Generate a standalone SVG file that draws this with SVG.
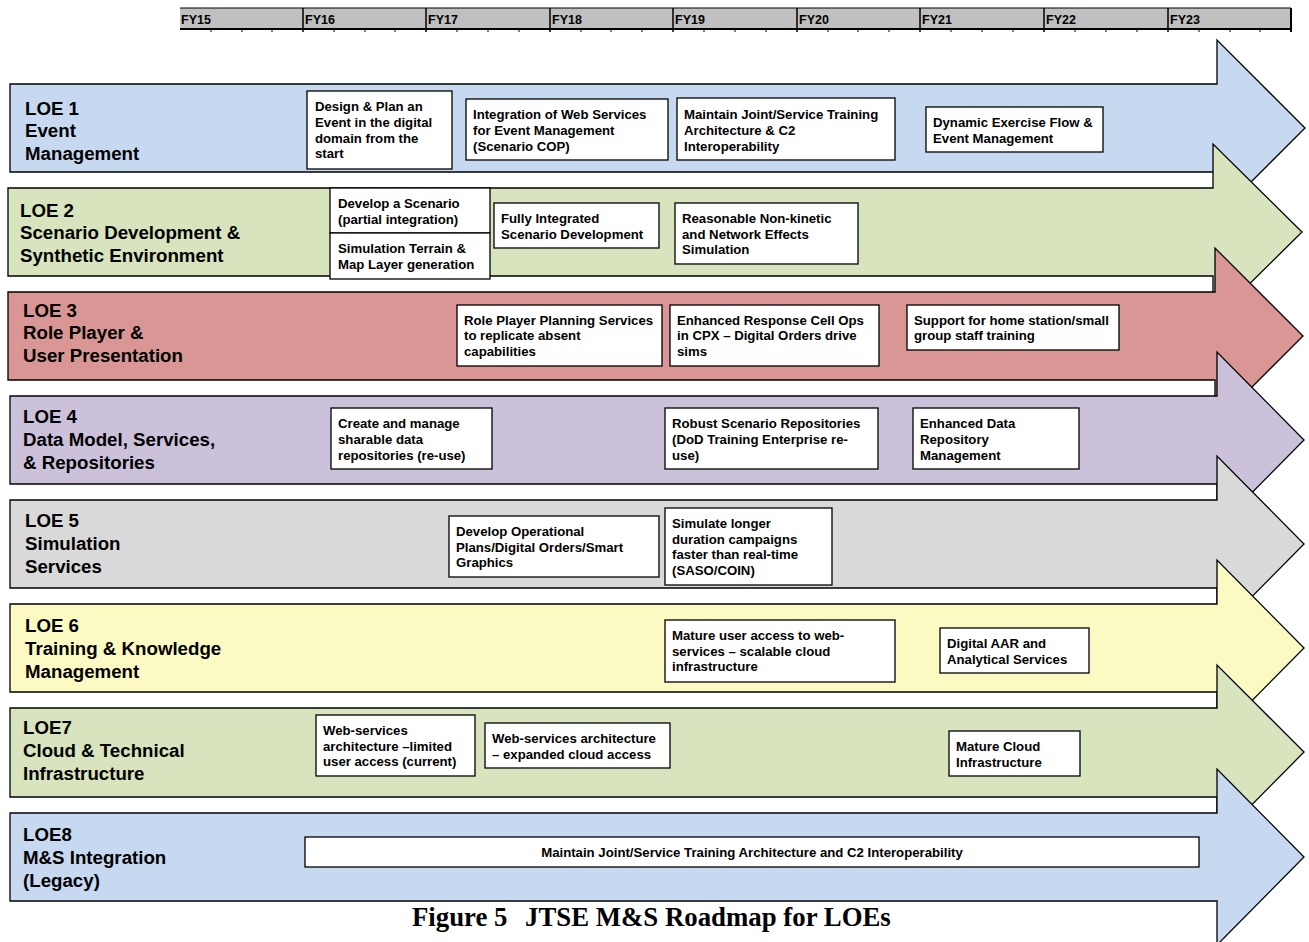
<svg xmlns="http://www.w3.org/2000/svg" width="1309" height="942" viewBox="0 0 1309 942">
  <style>
    .arrow { stroke: #000; stroke-width: 1.3; stroke-linejoin: miter; }
    .box { fill: #fff; stroke: #000; stroke-width: 1.3; }
    .boxtxt { font-family: "Liberation Sans", Arial, sans-serif; font-weight: bold; font-size: 13.2px; fill: #000; }
    .loe { font-family: "Liberation Sans", Arial, sans-serif; font-weight: bold; font-size: 18.7px; fill: #000; }
    .fy { font-family: "Liberation Sans", Arial, sans-serif; font-weight: bold; font-size: 12.5px; fill: #000; }
    .caption { font-family: "Liberation Serif", "Times New Roman", serif; font-weight: bold; font-size: 26.8px; fill: #000; }
    .tick { stroke: #000; stroke-width: 1; }
    .div { stroke: #000; stroke-width: 1.5; }
  </style>

  <!-- fiscal year timeline -->
  <g id="timeline">
    <rect x="180" y="8" width="1111" height="21" fill="#c0c0c0"/>
    <line x1="180" y1="8" x2="1291" y2="8" stroke="#000" stroke-width="1"/>
    <line x1="180" y1="29" x2="1292" y2="29" stroke="#000" stroke-width="2"/>
    <line x1="1291" y1="8" x2="1291" y2="32" stroke="#000" stroke-width="2"/>
    <g class="div">
      <line x1="303" y1="8" x2="303" y2="32"/>
      <line x1="426" y1="8" x2="426" y2="32"/>
      <line x1="550" y1="8" x2="550" y2="32"/>
      <line x1="673" y1="8" x2="673" y2="32"/>
      <line x1="797" y1="8" x2="797" y2="32"/>
      <line x1="920" y1="8" x2="920" y2="32"/>
      <line x1="1044" y1="8" x2="1044" y2="32"/>
      <line x1="1168" y1="8" x2="1168" y2="32"/>
    </g>
    <g class="tick">
      <line x1="211" y1="29" x2="211" y2="32"/><line x1="242" y1="29" x2="242" y2="32"/><line x1="272" y1="29" x2="272" y2="32"/>
      <line x1="334" y1="29" x2="334" y2="32"/><line x1="365" y1="29" x2="365" y2="32"/><line x1="395" y1="29" x2="395" y2="32"/>
      <line x1="457" y1="29" x2="457" y2="32"/><line x1="488" y1="29" x2="488" y2="32"/><line x1="519" y1="29" x2="519" y2="32"/>
      <line x1="581" y1="29" x2="581" y2="32"/><line x1="611" y1="29" x2="611" y2="32"/><line x1="642" y1="29" x2="642" y2="32"/>
      <line x1="704" y1="29" x2="704" y2="32"/><line x1="735" y1="29" x2="735" y2="32"/><line x1="766" y1="29" x2="766" y2="32"/>
      <line x1="828" y1="29" x2="828" y2="32"/><line x1="858" y1="29" x2="858" y2="32"/><line x1="889" y1="29" x2="889" y2="32"/>
      <line x1="951" y1="29" x2="951" y2="32"/><line x1="982" y1="29" x2="982" y2="32"/><line x1="1013" y1="29" x2="1013" y2="32"/>
      <line x1="1075" y1="29" x2="1075" y2="32"/><line x1="1106" y1="29" x2="1106" y2="32"/><line x1="1137" y1="29" x2="1137" y2="32"/>
      <line x1="1199" y1="29" x2="1199" y2="32"/><line x1="1230" y1="29" x2="1230" y2="32"/><line x1="1260" y1="29" x2="1260" y2="32"/>
    </g>
    <text class="fy" x="181" y="24">FY15</text>
    <text class="fy" x="305" y="24">FY16</text>
    <text class="fy" x="428" y="24">FY17</text>
    <text class="fy" x="552" y="24">FY18</text>
    <text class="fy" x="675" y="24">FY19</text>
    <text class="fy" x="799" y="24">FY20</text>
    <text class="fy" x="922" y="24">FY21</text>
    <text class="fy" x="1046" y="24">FY22</text>
    <text class="fy" x="1170" y="24">FY23</text>
  </g>

  <!-- LOE 1 -->
  <g id="loe1">
    <path class="arrow" fill="#c6d9f1" d="M10,84 H1217 V40 L1305,128 L1217,216 V172 H10 Z"/>
    <text class="loe" x="25" y="115">LOE 1</text>
    <text class="loe" x="25" y="137">Event</text>
    <text class="loe" x="25" y="160">Management</text>
    <rect class="box" x="307" y="91" width="145" height="78"/>
    <text class="boxtxt" x="315" y="111">Design &amp; Plan an</text>
    <text class="boxtxt" x="315" y="127">Event in the digital</text>
    <text class="boxtxt" x="315" y="143">domain from the</text>
    <text class="boxtxt" x="315" y="158">start</text>
    <rect class="box" x="466" y="99" width="202" height="61"/>
    <text class="boxtxt" x="473" y="119">Integration of Web Services</text>
    <text class="boxtxt" x="473" y="135">for Event Management</text>
    <text class="boxtxt" x="473" y="151">(Scenario COP)</text>
    <rect class="box" x="677" y="98" width="218" height="62"/>
    <text class="boxtxt" x="684" y="119">Maintain Joint/Service Training</text>
    <text class="boxtxt" x="684" y="135">Architecture &amp; C2</text>
    <text class="boxtxt" x="684" y="151">Interoperability</text>
    <rect class="box" x="926" y="107" width="177" height="45"/>
    <text class="boxtxt" x="933" y="127">Dynamic Exercise Flow &amp;</text>
    <text class="boxtxt" x="933" y="143">Event Management</text>
  </g>

  <!-- LOE 2 -->
  <g id="loe2">
    <path class="arrow" fill="#d7e4bd" d="M8,188 H1213 V144 L1302,232 L1213,320 V276 H8 Z"/>
    <text class="loe" x="20" y="217">LOE 2</text>
    <text class="loe" x="20" y="239">Scenario Development &amp;</text>
    <text class="loe" x="20" y="262">Synthetic Environment</text>
    <rect class="box" x="330" y="188" width="160" height="45"/>
    <text class="boxtxt" x="338" y="208">Develop a Scenario</text>
    <text class="boxtxt" x="338" y="224">(partial integration)</text>
    <rect class="box" x="330" y="233" width="160" height="46"/>
    <text class="boxtxt" x="338" y="253">Simulation Terrain &amp;</text>
    <text class="boxtxt" x="338" y="269">Map Layer generation</text>
    <rect class="box" x="494" y="203" width="165" height="45"/>
    <text class="boxtxt" x="501" y="223">Fully Integrated</text>
    <text class="boxtxt" x="501" y="239">Scenario Development</text>
    <rect class="box" x="675" y="203" width="183" height="61"/>
    <text class="boxtxt" x="682" y="223">Reasonable Non-kinetic</text>
    <text class="boxtxt" x="682" y="239">and Network Effects</text>
    <text class="boxtxt" x="682" y="254">Simulation</text>
  </g>

  <!-- LOE 3 -->
  <g id="loe3">
    <path class="arrow" fill="#d99694" d="M8,292 H1215 V248 L1303,336 L1215,424 V380 H8 Z"/>
    <text class="loe" x="23" y="317">LOE 3</text>
    <text class="loe" x="23" y="339">Role Player &amp;</text>
    <text class="loe" x="23" y="362">User Presentation</text>
    <rect class="box" x="457" y="305" width="205" height="61"/>
    <text class="boxtxt" x="464" y="325">Role Player Planning Services</text>
    <text class="boxtxt" x="464" y="340">to replicate absent</text>
    <text class="boxtxt" x="464" y="356">capabilities</text>
    <rect class="box" x="670" y="305" width="209" height="61"/>
    <text class="boxtxt" x="677" y="325">Enhanced Response Cell Ops</text>
    <text class="boxtxt" x="677" y="340">in CPX – Digital Orders drive</text>
    <text class="boxtxt" x="677" y="356">sims</text>
    <rect class="box" x="907" y="305" width="212" height="45"/>
    <text class="boxtxt" x="914" y="325">Support for home station/small</text>
    <text class="boxtxt" x="914" y="340">group staff training</text>
  </g>

  <!-- LOE 4 -->
  <g id="loe4">
    <path class="arrow" fill="#ccc1da" d="M10,396 H1217 V352 L1304,440 L1217,528 V484 H10 Z"/>
    <text class="loe" x="23" y="423">LOE 4</text>
    <text class="loe" x="23" y="446">Data Model, Services,</text>
    <text class="loe" x="23" y="469">&amp; Repositories</text>
    <rect class="box" x="331" y="408" width="161" height="61"/>
    <text class="boxtxt" x="338" y="428">Create and manage</text>
    <text class="boxtxt" x="338" y="444">sharable data</text>
    <text class="boxtxt" x="338" y="460">repositories (re-use)</text>
    <rect class="box" x="665" y="408" width="213" height="61"/>
    <text class="boxtxt" x="672" y="428">Robust Scenario Repositories</text>
    <text class="boxtxt" x="672" y="444">(DoD Training Enterprise re-</text>
    <text class="boxtxt" x="672" y="460">use)</text>
    <rect class="box" x="913" y="408" width="166" height="61"/>
    <text class="boxtxt" x="920" y="428">Enhanced Data</text>
    <text class="boxtxt" x="920" y="444">Repository</text>
    <text class="boxtxt" x="920" y="460">Management</text>
  </g>

  <!-- LOE 5 -->
  <g id="loe5">
    <path class="arrow" fill="#d9d9d9" d="M10,500 H1217 V456 L1304,544 L1217,632 V588 H10 Z"/>
    <text class="loe" x="25" y="527">LOE 5</text>
    <text class="loe" x="25" y="550">Simulation</text>
    <text class="loe" x="25" y="573">Services</text>
    <rect class="box" x="449" y="516" width="210" height="61"/>
    <text class="boxtxt" x="456" y="536">Develop Operational</text>
    <text class="boxtxt" x="456" y="552">Plans/Digital Orders/Smart</text>
    <text class="boxtxt" x="456" y="567">Graphics</text>
    <rect class="box" x="665" y="508" width="167" height="77"/>
    <text class="boxtxt" x="672" y="528">Simulate longer</text>
    <text class="boxtxt" x="672" y="544">duration campaigns</text>
    <text class="boxtxt" x="672" y="559">faster than real-time</text>
    <text class="boxtxt" x="672" y="575">(SASO/COIN)</text>
  </g>

  <!-- LOE 6 -->
  <g id="loe6">
    <path class="arrow" fill="#fafac2" d="M10,604 H1217 V560 L1304,648 L1217,736 V692 H10 Z"/>
    <text class="loe" x="25" y="632">LOE 6</text>
    <text class="loe" x="25" y="655">Training &amp; Knowledge</text>
    <text class="loe" x="25" y="678">Management</text>
    <rect class="box" x="665" y="620" width="230" height="62"/>
    <text class="boxtxt" x="672" y="640">Mature user access to web-</text>
    <text class="boxtxt" x="672" y="656">services – scalable cloud</text>
    <text class="boxtxt" x="672" y="671">infrastructure</text>
    <rect class="box" x="940" y="628" width="149" height="45"/>
    <text class="boxtxt" x="947" y="648">Digital AAR and</text>
    <text class="boxtxt" x="947" y="664">Analytical Services</text>
  </g>

  <!-- LOE 7 -->
  <g id="loe7">
    <path class="arrow" fill="#d7e4bd" d="M10,708 H1217 V665 L1304,752 L1217,840 V797 H10 Z"/>
    <text class="loe" x="23" y="734">LOE7</text>
    <text class="loe" x="23" y="757">Cloud &amp; Technical</text>
    <text class="loe" x="23" y="780">Infrastructure</text>
    <rect class="box" x="316" y="715" width="159" height="61"/>
    <text class="boxtxt" x="323" y="735">Web-services</text>
    <text class="boxtxt" x="323" y="751">architecture –limited</text>
    <text class="boxtxt" x="323" y="766">user access (current)</text>
    <rect class="box" x="485" y="723" width="185" height="45"/>
    <text class="boxtxt" x="492" y="743">Web-services architecture</text>
    <text class="boxtxt" x="492" y="759">– expanded cloud access</text>
    <rect class="box" x="949" y="731" width="131" height="45"/>
    <text class="boxtxt" x="956" y="751">Mature Cloud</text>
    <text class="boxtxt" x="956" y="767">Infrastructure</text>
  </g>

  <!-- LOE 8 -->
  <g id="loe8">
    <path class="arrow" fill="#c6d9f1" d="M10,813 H1217 V769 L1304,857 L1217,945 V901 H10 Z"/>
    <text class="loe" x="23" y="841">LOE8</text>
    <text class="loe" x="23" y="864">M&amp;S Integration</text>
    <text class="loe" x="23" y="887">(Legacy)</text>
    <rect class="box" x="305" y="837" width="894" height="30"/>
    <text class="boxtxt" x="752" y="857" text-anchor="middle">Maintain Joint/Service Training Architecture and C2 Interoperability</text>
  </g>

  <!-- connectors: none drawn in this roadmap -->
  <g id="connectors"/>

  <!-- caption: figure number and title set apart by a wide gap -->
  <text class="caption" y="926"><tspan x="412">Figure 5</tspan><tspan x="525">JTSE M&amp;S Roadmap for LOEs</tspan></text>
</svg>
